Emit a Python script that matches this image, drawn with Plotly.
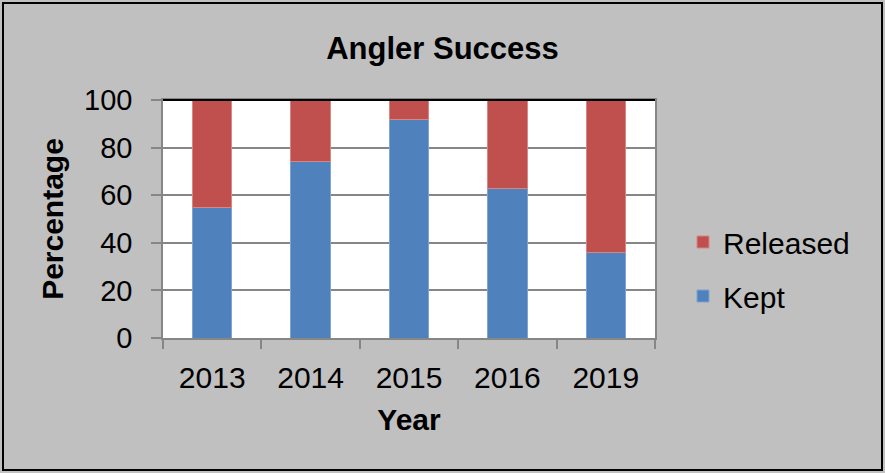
import plotly.graph_objects as go

years = ["2013", "2014", "2015", "2016", "2019"]
kept = [55, 74, 92, 63, 36]
released = [45, 26, 8, 37, 64]
y_ticks = [0, 20, 40, 60, 80, 100]

FONT = "Liberation Sans, Arial, sans-serif"

fig = go.Figure()
fig.add_trace(go.Bar(x=years, y=kept, name="Kept", legendrank=2, legendgroup="k",
                     marker=dict(color="#4F81BD", line=dict(color="#7FA3D3", width=1))))
fig.add_trace(go.Bar(x=years, y=released, name="Released", legendrank=1, legendgroup="r",
                     marker=dict(color="#C0504D", line=dict(color="#D88583", width=1))))

L, R, T, B = 163, 230, 100, 135
W, H = 885, 473
pw, ph = W - L - R, H - T - B

def px(x):
    return (x - L) / pw

def py(y):
    return (H - B - y) / ph

fig.update_layout(
    width=W, height=H,
    barmode="stack", bargap=0.6,
    paper_bgcolor="#C0C0C0", plot_bgcolor="#FFFFFF",
    margin=dict(l=L, r=R, t=T, b=B, autoexpand=False),
    font=dict(family=FONT, color="#000000", size=30),
    title=dict(text="<b>Angler Success</b>", x=0.5, xanchor="center",
               y=1 - 48 / H, yanchor="middle", font=dict(size=31, family=FONT)),
    xaxis=dict(
        type="category", tickson="boundaries", ticks="outside", ticklen=9,
        tickcolor="#868686", tickwidth=1.5, showline=True, linecolor="#868686",
        linewidth=1.5, mirror=True, showgrid=False, ticklabelstandoff=12,
        tickfont=dict(size=30),
        title=dict(text="<b>Year</b>", font=dict(size=30), standoff=16),
    ),
    yaxis=dict(
        range=[0, 100], tickvals=y_ticks, ticks="outside", ticklen=10,
        tickcolor="#868686", tickwidth=1.5, showline=True, linecolor="#868686",
        linewidth=1.5, mirror=True, showgrid=True, gridcolor="#868686",
        gridwidth=1.5, ticklabelstandoff=13, tickfont=dict(size=29),
        title=dict(text="<b>Percentage</b>", font=dict(size=30), standoff=12),
        zeroline=False,
    ),
    legend=dict(
        x=px(683), y=py(216), xanchor="left", yanchor="top",
        traceorder="grouped", tracegroupgap=12,
        font=dict(size=30), bgcolor="rgba(0,0,0,0)",
        itemwidth=30,
    ),
    shapes=[
        dict(type="rect", xref="paper", yref="paper",
             x0=px(3), x1=px(882), y0=py(3), y1=py(470),
             line=dict(color="#000000", width=2), fillcolor="rgba(0,0,0,0)", layer="below"),
        dict(type="line", xref="paper", yref="paper", x0=0, x1=1, y0=1, y1=1,
             line=dict(color="#000000", width=2)),
    ],
)

fig.write_html("out.html", config={"displayModeBar": False},
               post_script="document.body.style.margin='0';document.body.style.overflow='hidden';")
